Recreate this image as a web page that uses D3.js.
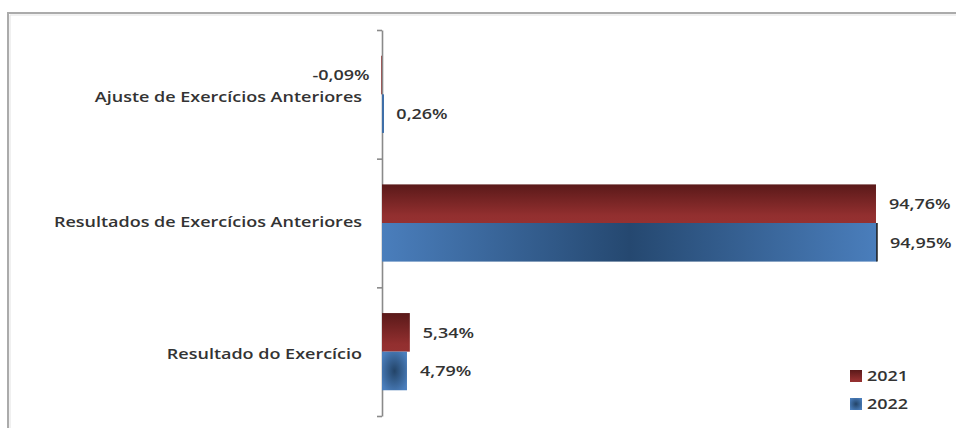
<!DOCTYPE html>
<html>
<head>
<meta charset="utf-8">
<script src="https://cdn.jsdelivr.net/npm/d3@7"></script>
<style>
  html, body { margin: 0; padding: 0; background: #fff; }
  svg { display: block; }
  text { font-family: "Open Sans", Lato, sans-serif; font-weight: 600; }
</style>
</head>
<body>
<svg id="chart" width="956" height="428"></svg>
<script>
const categories = ["Ajuste de Exercícios Anteriores", "Resultados de Exercícios Anteriores", "Resultado do Exercício"];
const seriesNames = ["2021", "2022"];
const values2021 = [-0.09, 94.76, 5.34];
const values2022 = [0.26, 94.95, 4.79];
const valueLabels2021 = ["-0,09%", "94,76%", "5,34%"];
const valueLabels2022 = ["0,26%", "94,95%", "4,79%"];

(function () {
const svg = d3.select("#chart");
const W = 956, H = 428;
const axisX = 382, plotTop = 30, plotBottom = 416;
const textColor = "#333333";
const fs = 15;
const sx = 1.2; // horizontal stretch of the reference text

// defs / gradients
const defs = svg.append("defs");
const redG = defs.append("linearGradient").attr("id", "gRed").attr("x1", 0).attr("y1", 0).attr("x2", 0).attr("y2", 1);
redG.append("stop").attr("offset", "0%").attr("stop-color", "#5a1919");
redG.append("stop").attr("offset", "80%").attr("stop-color", "#922f2f");
redG.append("stop").attr("offset", "100%").attr("stop-color", "#953131");
const blueG = defs.append("linearGradient").attr("id", "gBlue").attr("x1", 0).attr("y1", 0).attr("x2", 1).attr("y2", 0);
blueG.append("stop").attr("offset", "0%").attr("stop-color", "#4a7ebc");
blueG.append("stop").attr("offset", "50%").attr("stop-color", "#254870");
blueG.append("stop").attr("offset", "100%").attr("stop-color", "#4a7ebc");
const blueR = defs.append("radialGradient").attr("id", "gBlueR").attr("cx", 0.5).attr("cy", 0.5).attr("r", 0.6);
blueR.append("stop").attr("offset", "0%").attr("stop-color", "#234468");
blueR.append("stop").attr("offset", "100%").attr("stop-color", "#4a7ebc");

// frame
svg.append("path").attr("d", `M8,${H + 5} V13 H${W + 5}`).attr("fill", "none").attr("stroke", "#ababab").attr("stroke-width", 2);
svg.append("path").attr("d", `M10,${H + 5} V15 H${W + 5}`).attr("fill", "none").attr("stroke", "#e2e2e2").attr("stroke-width", 1);

// scales
const y = d3.scaleBand().domain(categories).range([plotTop, plotBottom]).paddingInner(0).paddingOuter(0);
const bw = y.bandwidth();
const ySub = d3.scaleBand().domain(seriesNames).range([bw * 0.2, bw * 0.8]);
const x = d3.scaleLinear().domain([0, 100]).range([axisX, axisX + 521.3]);

// axis with ticks at band boundaries
const yb = d3.scaleLinear().domain([0, categories.length]).range([plotTop, plotBottom]);
const axis = svg.append("g").attr("transform", `translate(${axisX},0)`)
  .call(d3.axisLeft(yb).tickValues(d3.range(categories.length + 1)).tickFormat("").tickSize(5).tickSizeOuter(0));
axis.select(".domain").attr("stroke", "#8a8a8a").attr("stroke-width", 1.6);
axis.selectAll(".tick line").attr("stroke", "#8a8a8a").attr("stroke-width", 1.6);

const data = [];
categories.forEach((c, i) => {
  data.push({ cat: c, s: "2021", v: values2021[i], lab: valueLabels2021[i], idx: i });
  data.push({ cat: c, s: "2022", v: values2022[i], lab: valueLabels2022[i], idx: i });
});

// bars
const g = svg.append("g");
g.selectAll("rect.bar").data(data).join("rect")
  .attr("class", "bar")
  .attr("x", d => Math.abs(x(d.v) - x(0)) < 2 ? (d.v < 0 ? x(0) - 1 : x(0)) : x(Math.min(0, d.v)))
  .attr("y", d => y(d.cat) + ySub(d.s))
  .attr("width", d => Math.max(d.v < 0 ? 1 : 2, Math.abs(x(d.v) - x(0))))
  .attr("height", ySub.bandwidth())
  .attr("fill", d => d.s === "2021" ? (Math.abs(d.v) < 1 ? "#9a5a5a" : "url(#gRed)") : (d.idx === 2 ? "url(#gBlueR)" : (Math.abs(d.v) < 1 ? "#3f6fa8" : "url(#gBlue)")));

// dark end line on big blue bar
g.selectAll("line.end").data(data.filter(d => d.s === "2022" && d.v > 50)).join("line")
  .attr("class", "end")
  .attr("x1", d => x(d.v)).attr("x2", d => x(d.v))
  .attr("y1", d => y(d.cat) + ySub(d.s)).attr("y2", d => y(d.cat) + ySub(d.s) + ySub.bandwidth())
  .attr("stroke", "#1a1a1a").attr("stroke-width", 1.5);

// category labels
svg.selectAll("text.cat").data(categories).join("text")
  .attr("class", "cat")
  .attr("transform", (d, i) => `translate(${axisX - 20},${y(d) + bw / 2 + [2, -1, 2][i]}) scale(${sx},1)`)
  .attr("dy", "0.35em")
  .attr("text-anchor", "end")
  .attr("font-size", fs)
  .attr("fill", textColor)
  .text(d => d);

// value labels
svg.selectAll("text.val").data(data).join("text")
  .attr("class", "val")
  .attr("transform", d => `translate(${d.v < 0 ? x(d.v) - 12 : x(d.v) + 13},${y(d.cat) + ySub(d.s) + ySub.bandwidth() / 2}) scale(${sx},1)`)
  .attr("dy", "0.35em")
  .attr("text-anchor", d => d.v < 0 ? "end" : "start")
  .attr("font-size", fs)
  .attr("fill", textColor)
  .text(d => d.lab);

// legend
const leg = svg.append("g").attr("transform", "translate(850,370)");
seriesNames.forEach((s, i) => {
  leg.append("rect").attr("x", 0).attr("y", i * 28).attr("width", 12).attr("height", 12)
    .attr("fill", i === 0 ? "url(#gRed)" : "url(#gBlueR)");
  leg.append("text").attr("transform", `translate(17,${i * 28 + 6}) scale(${sx},1)`).attr("dy", "0.35em")
    .attr("font-size", fs).attr("fill", textColor).text(s);
});
})();
</script>
</body>
</html>
